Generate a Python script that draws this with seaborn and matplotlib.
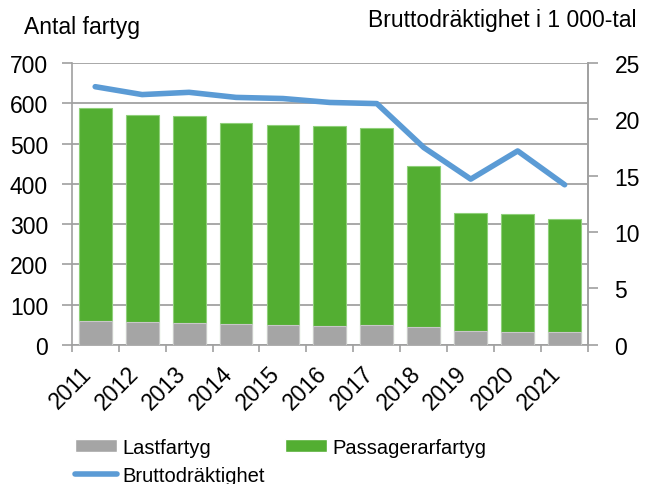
import matplotlib
matplotlib.use("Agg")
import matplotlib.pyplot as plt
import matplotlib.transforms as mtransforms
import numpy as np
import pandas as pd
import seaborn as sns
from matplotlib.lines import Line2D
from matplotlib.patches import Patch

years = ['2011', '2012', '2013', '2014', '2015', '2016', '2017', '2018', '2019', '2020', '2021']
lastfartyg = [60, 57, 55, 52, 50, 47, 48, 45, 35, 32, 32]
passagerarfartyg = [529, 513, 513, 499, 495, 496, 491, 398, 293, 292, 280]
bruttodraktighet = [22.9, 22.2, 22.4, 21.95, 21.85, 21.5, 21.4, 17.5, 14.7, 17.2, 14.2]

gray = '#A5A5A5'
green = '#53AE32'
blue = '#5B9BD5'
axis_col = '#A0A0A0'
fs = 16.5

sns.set_style('white')
plt.rcParams['font.family'] = ['Liberation Sans', 'DejaVu Sans']
plt.rcParams['font.size'] = fs
plt.rcParams['text.color'] = 'black'

df = pd.DataFrame({'Year': years, 'Last': lastfartyg, 'Pass': passagerarfartyg,
                   'Brutto': bruttodraktighet})
df['Total'] = df['Last'] + df['Pass']

fig = plt.figure(figsize=(6.52, 4.85), dpi=100)
ax = fig.add_axes([0.110, 0.287, 0.792, 0.581])

sns.barplot(data=df, x='Year', y='Total', color=green, width=0.7, saturation=1,
            edgecolor='#8FD07A', linewidth=0.8, ax=ax, zorder=2)
sns.barplot(data=df, x='Year', y='Last', color=gray, width=0.7, saturation=1,
            edgecolor='#C8C8C8', linewidth=0.8, ax=ax, zorder=3)

ax.set_ylim(0, 700)
ax.set_yticks(range(0, 701, 100))
ax.set_xlim(-0.5, len(years) - 0.5)
ax.grid(axis='y', color='#999999', linewidth=1.2, zorder=0)
ax.set_axisbelow(True)
ax.set_xlabel('')
ax.set_ylabel('')
ax.spines['top'].set_visible(False)
for s in ['left', 'bottom', 'right']:
    ax.spines[s].set_color(axis_col)
    ax.spines[s].set_linewidth(1.2)

# ticks between categories, labels at category centres
ax.set_xticks(np.arange(-0.5, len(years)), minor=False)
ax.set_xticklabels([])
ax.set_xticks(np.arange(len(years)), minor=True)
ax.set_xticklabels(years, minor=True, rotation=45, ha='right', va='center',
                   rotation_mode='anchor')
ax.tick_params(axis='x', which='major', length=5, color=axis_col, width=1.2, bottom=True)
ax.tick_params(axis='x', which='minor', length=0, pad=18, labelsize=fs, labelcolor='black')
ax.tick_params(axis='y', length=7, color=axis_col, width=1.2, left=True, labelsize=fs,
               pad=10, labelcolor='black')
shift = mtransforms.ScaledTranslation(-7 / 100, 0, fig.dpi_scale_trans)
for lbl in ax.get_xticklabels(minor=True):
    lbl.set_transform(lbl.get_transform() + shift)

ax2 = ax.twinx()
sns.lineplot(x=np.arange(len(years)), y=df['Brutto'].values, color=blue, linewidth=4,
             ax=ax2, solid_capstyle='round', zorder=4)
ax2.set_ylim(0, 25)
ax2.set_yticks(range(0, 26, 5))
ax2.tick_params(axis='y', length=7, color=axis_col, width=1.2, right=True, labelsize=fs,
                pad=12, labelcolor='black')
for s in ['top', 'left', 'bottom']:
    ax2.spines[s].set_visible(False)
ax2.spines['right'].set_color(axis_col)
ax2.spines['right'].set_linewidth(1.2)
ax2.set_xlim(-0.5, len(years) - 0.5)

fig.text(0.037, 0.944, 'Antal fartyg', fontsize=fs, ha='left', va='center')
fig.text(0.976, 0.957, 'Bruttodräktighet i 1 000-tal', fontsize=fs, ha='right', va='center')

handles = [Patch(facecolor=gray, label='Lastfartyg'),
           Line2D([0], [0], color=blue, linewidth=4, solid_capstyle='round', label='Bruttodräktighet'),
           Patch(facecolor=green, label='Passagerarfartyg')]
fig.legend(handles=handles, ncol=2, loc='center left', bbox_to_anchor=(0.115, 0.047),
           bbox_transform=fig.transFigure, frameon=False, fontsize=14.5,
           handlelength=2.1, handleheight=0.6, handletextpad=0.25, columnspacing=1.0,
           labelspacing=0.45, borderaxespad=0, borderpad=0)

fig.savefig('out.png', dpi=100)
